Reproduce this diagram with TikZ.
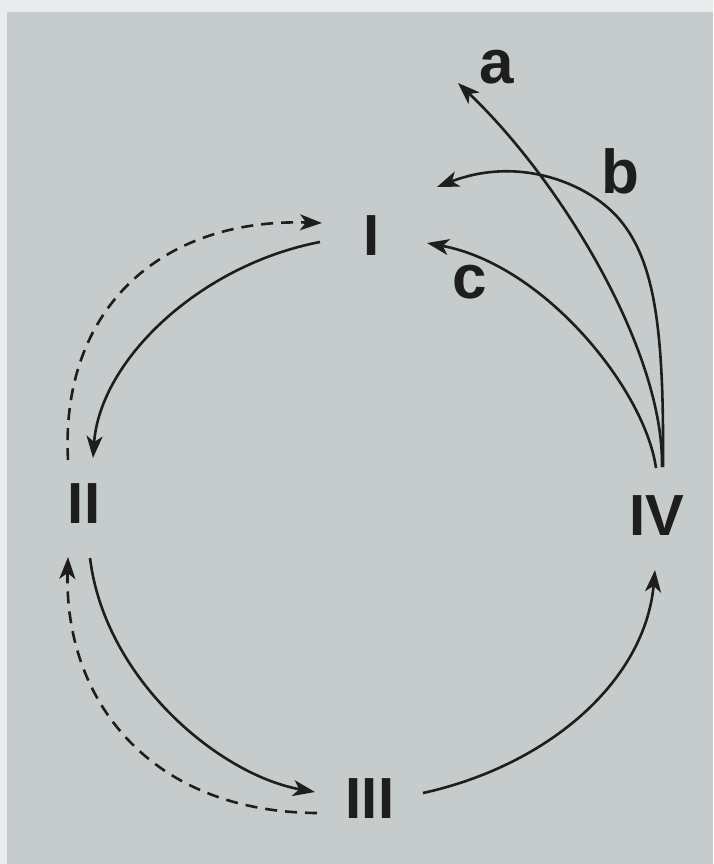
\documentclass[tikz,border=0pt]{standalone}
\usepackage{fontspec}
\setmainfont{Liberation Sans}
\usetikzlibrary{arrows.meta}
\definecolor{paper}{HTML}{C6CBCB}
\definecolor{edgestrip}{HTML}{E8ECEC}
\definecolor{ink}{HTML}{1E1E1E}
\begin{document}
\begin{tikzpicture}[x=1pt,y=-1pt,
  numeral/.style={font=\fontsize{58}{60}\selectfont\bfseries, text=ink, inner sep=0pt},
  letter/.style={font=\fontsize{62}{64}\selectfont\bfseries, text=ink, inner sep=0pt},
  conn/.style={draw=ink, line width=2.6pt, -{Stealth[length=22pt,width=16pt,inset=6pt]}},
  dashconn/.style={conn, dash pattern=on 12pt off 8pt}]
\useasboundingbox (0,0) rectangle (713,864);
\fill[edgestrip] (0,0) rectangle (713,864);
\fill[paper] (7,12) rectangle (713,864);

\node[numeral] (I)   at (372,236) {I};
\node[numeral] (II)  at (84,504)  {II};
\node[numeral] (III) at (370,799) {III};
\node[numeral] (IV)  at (657,516) {IV};
\node[letter]  (a)   at (497,67)  {a};
\node[letter]  (b)   at (620,171) {b};
\node[letter]  (c)   at (470,282) {c};
\coordinate (bend) at (437,187);

% I -> II (solid) and II -> I (dashed)
\draw[conn] ([shift={(-52,6)}]I.center) .. controls (200,265) and (100,360) .. ([shift={(9,-46)}]II.center);
\draw[dashconn] ([shift={(-16,-44)}]II.center) .. controls (60,310) and (160,218) .. ([shift={(-50,-13)}]I.center);
% II -> III (solid) and III -> II (dashed)
\draw[conn] ([shift={(6,54)}]II.center) .. controls (105,680) and (220,775) .. ([shift={(-55,-7)}]III.center);
\draw[dashconn] ([shift={(-53,14)}]III.center) .. controls (150,812) and (64,700) .. ([shift={(-16,53)}]II.center);
% III -> IV
\draw[conn] ([shift={(53,-6)}]III.center) .. controls (550,765) and (645,680) .. ([shift={(-2,54)}]IV.center);
% IV -> a, b, c
\draw[conn] ([shift={(5,-49)}]IV.center) .. controls (664,350) and (560,180) .. ([shift={(-39,16)}]a.center);
\draw[conn] ([shift={(6,-49)}]IV.center) .. controls (664,330) and (655,262) .. (620,220)
  .. controls (590,184) and (520,155) .. (bend);
\draw[conn] ([shift={(-1,-48)}]IV.center) .. controls (645,390) and (545,265) .. ([shift={(55,7)}]I.center);
\end{tikzpicture}
\end{document}
